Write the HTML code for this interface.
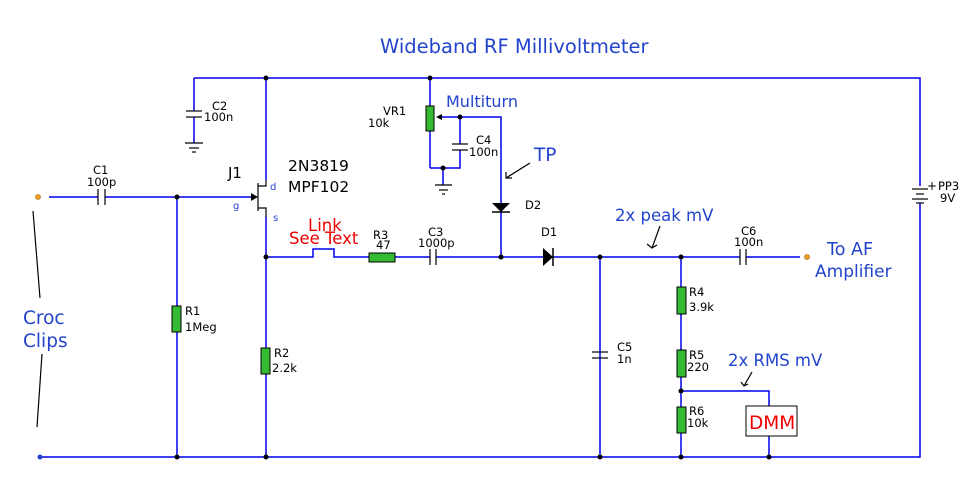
<!DOCTYPE html>
<html><head><style>body{margin:0;background:#fff}svg{display:block}</style></head><body>
<svg width="979" height="497" viewBox="0 0 979 497" xmlns="http://www.w3.org/2000/svg" font-family="Verdana, 'DejaVu Sans', sans-serif">
<g stroke="#0000ee" stroke-width="1.5" fill="none">
<polyline points="194,78 920,78 920,186"/>
<polyline points="920,203 920,457 40,457"/>
<line x1="194" y1="78" x2="194" y2="111"/><line x1="194" y1="117" x2="194" y2="143"/>
<line x1="266" y1="78" x2="266" y2="180"/>
<line x1="266" y1="217" x2="266" y2="457"/>
<line x1="49" y1="197" x2="98" y2="197"/><line x1="105" y1="197" x2="255" y2="197"/>
<line x1="177" y1="197" x2="177" y2="457"/>
<polyline points="266,257 313,257 313,249 334,249 334,257 430,257"/>
<line x1="436" y1="257" x2="740" y2="257"/>
<line x1="746" y1="257" x2="800" y2="257"/>
<line x1="430" y1="78" x2="430" y2="168"/>
<polyline points="430,168 460,168 460,150"/>
<line x1="460" y1="144" x2="460" y2="117"/>
<polyline points="438,117 501,117 501,257"/>
<line x1="443" y1="168" x2="443" y2="185"/>
<line x1="600" y1="257" x2="600" y2="457"/>
<line x1="681" y1="257" x2="681" y2="457"/>
<polyline points="681,391 769,391 769,406"/>
<line x1="769" y1="436" x2="769" y2="457"/>
</g>
<g stroke="#000" stroke-width="1.2" fill="none">
<line x1="186" y1="111" x2="202" y2="111"/><line x1="186" y1="117" x2="202" y2="117"/>
<line x1="185" y1="143" x2="203" y2="143"/><line x1="189" y1="148" x2="199" y2="148"/><line x1="192" y1="152" x2="196" y2="152"/>
<line x1="435" y1="185" x2="452" y2="185"/><line x1="439" y1="190" x2="448" y2="190"/><line x1="442" y1="194" x2="445" y2="194"/>
<line x1="98" y1="189" x2="98" y2="205"/><line x1="105" y1="189" x2="105" y2="205"/>
<line x1="430" y1="249" x2="430" y2="265"/><line x1="436" y1="249" x2="436" y2="265"/>
<line x1="740" y1="249" x2="740" y2="265"/><line x1="746" y1="249" x2="746" y2="265"/>
<line x1="452" y1="144" x2="468" y2="144"/><line x1="452" y1="150" x2="468" y2="150"/>
<line x1="592" y1="352" x2="608" y2="352"/><line x1="592" y1="358" x2="608" y2="358"/>
<line x1="258" y1="183" x2="258" y2="211"/>
<polyline points="258,186 266,186 266,180"/><polyline points="258,208 266,208 266,217"/>
<line x1="912" y1="189" x2="928" y2="189"/><line x1="916" y1="194" x2="924" y2="194"/><line x1="912" y1="199" x2="928" y2="199"/><line x1="916" y1="203" x2="924" y2="203"/>
<line x1="33" y1="211" x2="40" y2="298"/><line x1="42" y1="354" x2="37" y2="427"/>
<line x1="530" y1="163" x2="506" y2="178"/><polyline points="506,172 506,178 512,178"/>
<line x1="660" y1="226" x2="652" y2="248"/><polyline points="647,244 652,248 657,245"/>
<line x1="752" y1="372" x2="744" y2="386"/><polyline points="741,382 744,386 748,384"/>
</g>
<polygon points="251,193 258,197 251,201" fill="#000"/>
<polygon points="436,117 442,114 442,120" fill="#000"/>
<polygon points="492,203 510,203 501,212" fill="#000"/><line x1="492" y1="212" x2="510" y2="212" stroke="#000" stroke-width="1.5"/>
<polygon points="543,248 553,257 543,266" fill="#000"/><line x1="553" y1="248" x2="553" y2="266" stroke="#000" stroke-width="1.5"/>
<g fill="#33bb33" stroke="#000" stroke-width="1">
<rect x="172" y="306" width="9" height="26"/><rect x="261" y="348" width="9" height="26"/>
<rect x="369" y="253" width="26" height="9"/><rect x="426" y="106" width="8" height="25"/>
<rect x="677" y="287" width="9" height="27"/><rect x="677" y="350" width="9" height="27"/><rect x="677" y="407" width="9" height="26"/>
</g>
<rect x="746" y="406" width="51" height="30" fill="#fff" stroke="#000"/>
<g fill="#000">
<circle cx="266" cy="78" r="2.5"/><circle cx="430" cy="78" r="2.5"/><circle cx="460" cy="117" r="2.5"/><circle cx="443" cy="168" r="2.5"/>
<circle cx="177" cy="197" r="2.5"/><circle cx="266" cy="257" r="2.5"/><circle cx="501" cy="257" r="2.5"/><circle cx="600" cy="257" r="2.5"/><circle cx="681" cy="257" r="2.5"/>
<circle cx="681" cy="391" r="2.5"/><circle cx="177" cy="457" r="2.5"/><circle cx="266" cy="457" r="2.5"/><circle cx="600" cy="457" r="2.5"/><circle cx="681" cy="457" r="2.5"/><circle cx="769" cy="457" r="2.5"/>
</g>
<circle cx="38" cy="197" r="2.5" fill="#f5a020" stroke="#a06000" stroke-width="0.6"/>
<circle cx="807" cy="257" r="2.5" fill="#f5a020" stroke="#a06000" stroke-width="0.6"/>
<circle cx="40" cy="457" r="2.5" fill="#2244cc"/>
<g fill="#000" font-size="11.5">
<text x="93" y="174">C1</text><text x="87" y="186">100p</text>
<text x="212" y="110">C2</text><text x="204" y="121">100n</text>
<text x="383" y="115">VR1</text><text x="368" y="127">10k</text>
<text x="476" y="144">C4</text><text x="469" y="156">100n</text>
<text x="525" y="209">D2</text><text x="541" y="236">D1</text>
<text x="373" y="239">R3</text><text x="376" y="249">47</text>
<text x="428" y="236">C3</text><text x="418" y="247">1000p</text>
<text x="185" y="315">R1</text><text x="185" y="331">1Meg</text>
<text x="274" y="357">R2</text><text x="272" y="372">2.2k</text>
<text x="617" y="351">C5</text><text x="617" y="363">1n</text>
<text x="689" y="296">R4</text><text x="689" y="311">3.9k</text>
<text x="689" y="359">R5</text><text x="687" y="371">220</text>
<text x="689" y="415">R6</text><text x="687" y="427">10k</text>
<text x="741" y="235">C6</text><text x="734" y="246">100n</text>
<text x="938" y="190">PP3</text><text x="940" y="202">9V</text><text x="927" y="190" font-size="12">+</text>
<text x="228" y="178" font-size="15">J1</text>
<text x="288" y="171" font-size="15.5">2N3819</text><text x="288" y="192" font-size="15.5">MPF102</text>
</g>
<g fill="#2244cc">
<text x="270" y="190" font-size="10">d</text><text x="233" y="209" font-size="10">g</text><text x="273" y="221" font-size="10">s</text>
<text x="380" y="53" font-size="19.5">Wideband RF Millivoltmeter</text>
<text x="446" y="107" font-size="16">Multiturn</text>
<text x="534" y="161" font-size="18.5">TP</text>
<text x="615" y="221" font-size="16.5">2x peak mV</text>
<text x="827" y="255" font-size="17.5">To AF</text><text x="815" y="277" font-size="17">Amplifier</text>
<text x="728" y="366" font-size="16.5">2x RMS mV</text>
<text x="23" y="324" font-size="18.5">Croc</text><text x="23" y="347" font-size="18.5">Clips</text>
</g>
<g fill="#ee0000">
<text x="308" y="231" font-size="16.5">Link</text><text x="289" y="244" font-size="16.5">See Text</text>
<text x="749" y="429" font-size="18.5">DMM</text>
</g>
</svg>
</body></html>
